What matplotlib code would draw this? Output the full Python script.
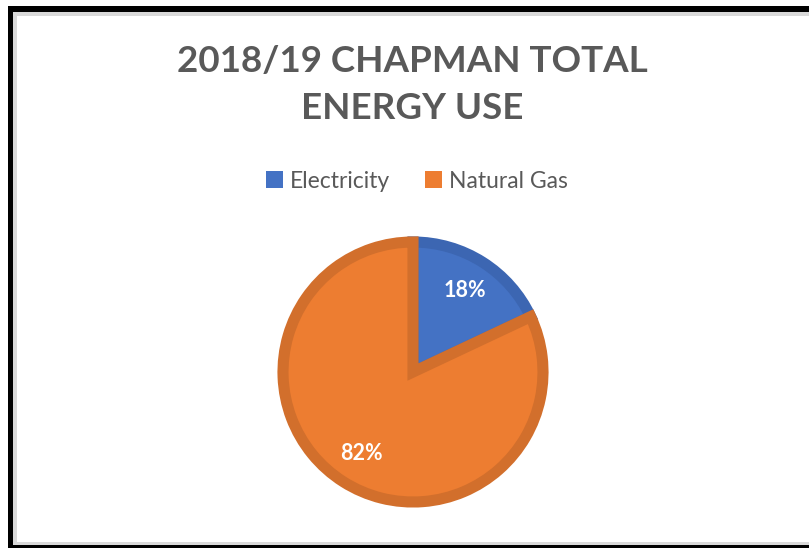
import matplotlib.pyplot as plt
from matplotlib.patches import Rectangle

# data
labels = ['Electricity', 'Natural Gas']
values = [18, 82]
fill_colors = ['#4472C4', '#ED7D31']
edge_colors = ['#3C66B2', '#D26F2C']
title = '2018/19 CHAPMAN TOTAL\nENERGY USE'

W, H = 809, 548
fig = plt.figure(figsize=(W / 100, H / 100), dpi=100)
fig.patch.set_facecolor('white')

def px_rect(x0, y0, x1, y1, color):
    # rectangle given in pixel coords from the top-left corner
    fig.add_artist(Rectangle((x0 / W, 1 - y1 / H), (x1 - x0) / W, (y1 - y0) / H,
                             transform=fig.transFigure, facecolor=color,
                             edgecolor='none', zorder=0))

# frame: black outer, thin grey inner line
px_rect(8, 6, W + 5, H + 5, 'black')
px_rect(13, 12, W + 5, 545, '#D9D9D9')
px_rect(17, 16, W + 5, 541.5, 'white')

fig.text(412 / W, 1 - 85 / H, title, ha='center', va='center',
         fontsize=26.5, fontweight='bold', color='#595959', family='Lato',
         linespacing=1.5)

# pie
R = 136
cx, cy = 413, 372
ax = fig.add_axes([(cx - R) / W, 1 - (cy + R) / H, 2 * R / W, 2 * R / H])
wedges, texts, autotexts = ax.pie(
    values, colors=fill_colors, startangle=90, counterclock=False,
    autopct='%d%%', pctdistance=0.74,
    wedgeprops=dict(linewidth=8),
    textprops=dict(color='white', fontsize=15.5, fontweight='bold', family='Lato'))
for w, ec in zip(wedges, edge_colors):
    w.set_edgecolor(ec)
    w.set_joinstyle('miter')
lim = R / 130
ax.set_xlim(-lim, lim)
ax.set_ylim(-lim, lim)
ax.set_aspect('equal')
ax.axis('off')

# legend
leg = fig.legend(wedges, labels, loc='center', bbox_to_anchor=(417 / W, 1 - 181 / H),
                 ncol=2, frameon=False, handlelength=0.75, handleheight=0.75,
                 handletextpad=0.3, columnspacing=1.5,
                 prop=dict(family='Lato', size=16.5))
for h, c in zip(leg.legend_handles, fill_colors):
    h.set_facecolor(c)
    h.set_edgecolor('none')
    h.set_linewidth(0)
for t in leg.get_texts():
    t.set_color('#595959')

fig.savefig('out.png', dpi=100)
